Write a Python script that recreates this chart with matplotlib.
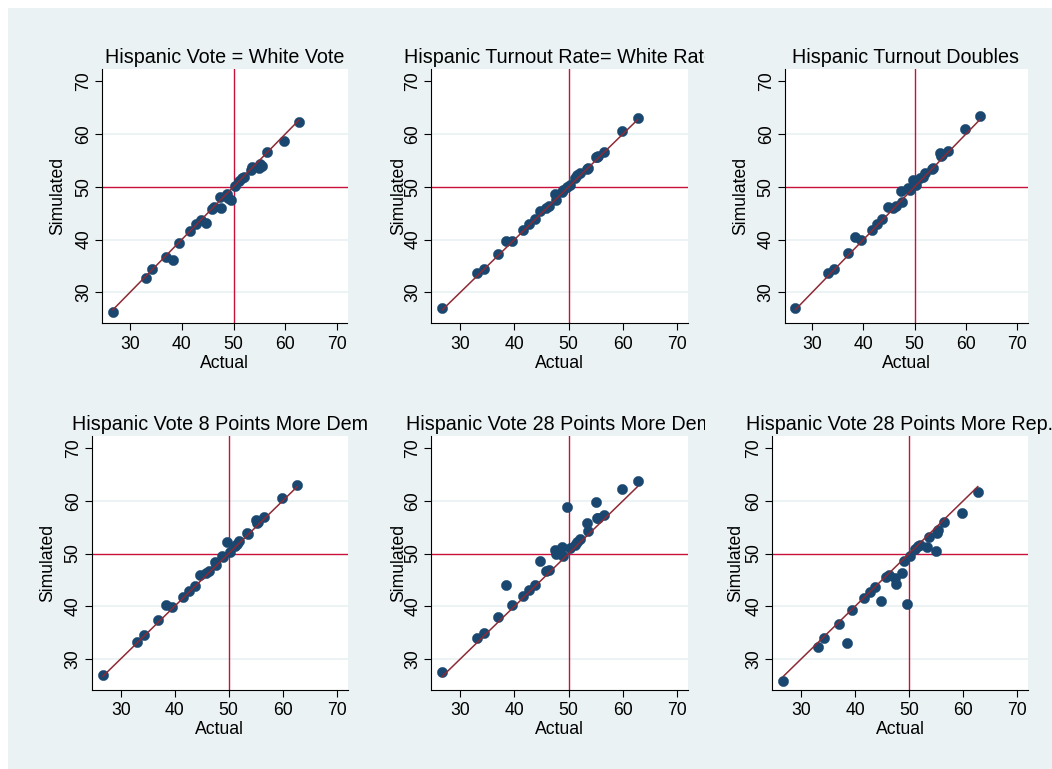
import matplotlib
matplotlib.use('Agg')
import matplotlib.pyplot as plt
from matplotlib.patches import Rectangle
from matplotlib.transforms import Bbox, offset_copy

plt.rcParams['font.family'] = ['Liberation Sans', 'DejaVu Sans']

# actual democratic share by state (x axis, same in every panel)
actual = [26.7, 33.1, 34.3, 37.0, 38.4, 39.5, 41.6, 42.7, 43.7, 44.7, 45.8, 46.3, 47.4, 47.6, 48.7,
          49.0, 49.6, 50.2, 51.1, 51.6, 52.0, 53.3, 53.6, 55.0, 55.2, 55.4, 56.5, 59.8, 62.7]

# simulated share for each scenario
sim_white_vote = [26.3, 32.8, 34.5, 36.7, 36.1, 39.4, 41.6, 42.9, 43.7, 43.2, 45.8, 46.2, 48.0, 46.0, 48.7,
                  47.8, 47.5, 50.2, 51.1, 51.6, 51.8, 53.2, 53.8, 53.5, 54.4, 54.0, 56.5, 58.7, 62.2]
sim_white_rate = [27.0, 33.7, 34.5, 37.2, 39.7, 39.7, 41.8, 43.0, 43.8, 45.5, 46.0, 46.4, 48.6, 47.4, 49.1,
                  49.3, 50.0, 50.3, 51.6, 52.2, 52.6, 53.4, 53.6, 55.7, 55.6, 55.8, 56.6, 60.5, 63.0]
sim_doubles = [27.1, 33.6, 34.4, 37.5, 40.5, 39.9, 41.75, 42.9, 43.8, 46.1, 45.9, 46.4, 49.25, 47.1, 49.7,
               49.4, 51.3, 50.3, 51.6, 51.9, 52.7, 53.3, 53.6, 56.3, 55.8, 56.0, 56.75, 61.0, 63.4]
sim_dem8 = [26.9, 33.3, 34.6, 37.4, 40.2, 39.8, 41.75, 42.9, 43.8, 45.9, 46.3, 46.6, 48.4, 47.9, 49.6,
            49.3, 52.25, 50.3, 51.5, 51.9, 52.3, 53.9, 53.7, 56.4, 55.7, 55.9, 56.9, 60.5, 63.0]
sim_dem28 = [27.6, 33.9, 34.9, 37.9, 44.0, 40.25, 41.9, 43.1, 44.1, 48.6, 46.6, 46.8, 50.7, 49.9, 51.3,
             49.6, 58.9, 51.0, 51.6, 52.1, 52.75, 55.7, 54.3, 59.75, 56.7, 56.8, 57.25, 62.25, 63.8]
sim_rep28 = [25.8, 32.3, 33.9, 36.6, 33.1, 39.2, 41.5, 42.7, 43.6, 40.9, 45.5, 46.0, 45.4, 44.3, 46.4,
             48.5, 40.4, 49.5, 50.9, 51.4, 51.6, 51.2, 53.1, 50.4, 53.9, 54.4, 56.0, 57.6, 61.7]

titles = ['Hispanic Vote = White Vote', 'Hispanic Turnout Rate= White Rate', 'Hispanic Turnout Doubles',
          'Hispanic Vote 8 Points More Dem', 'Hispanic Vote 28 Points More Dem', 'Hispanic Vote 28 Points More Rep.']
series = [sim_white_vote, sim_white_rate, sim_doubles, sim_dem8, sim_dem28, sim_rep28]
ticks = [30, 40, 50, 60, 70]

W, H = 1052, 769
BG = '#EAF2F3'
NAVY = '#1A476F'
RED = '#C8103A'
MAROON = '#8E2A35'

fig = plt.figure(figsize=(W / 100, H / 100), dpi=100)
fig.patch.set_facecolor('white')
fig.patches.append(Rectangle((8 / W, 0), 1, 1 - 8 / H, transform=fig.transFigure,
                             facecolor=BG, edgecolor='none', zorder=-10))

# plot areas in pixels: left, top, right, bottom
boxes = [(102, 69, 347.5, 323), (431, 69, 688, 323), (784.5, 69, 1027.5, 323),
         (91.5, 436, 347.5, 689.5), (431, 436, 688, 689.5), (772, 436, 1028, 689.5)]
clip_right = [380, 705, W, 380, 705, W]
# stata puts the y title a little differently in each panel
ylab_pad = [6.3, -2.3, 6.3, 6.3, -2.3, 0.6]

for i in range(6):
    l, t, r, b = boxes[i]
    ax = fig.add_axes([l / W, 1 - b / H, (r - l) / W, (b - t) / H])
    ax.set_facecolor('white')
    ax.set_xlim(24.6, 72)
    ax.set_ylim(24.2, 72.3)
    ax.set_xticks(ticks)
    ax.set_yticks(ticks)
    ax.tick_params(direction='out', length=5, width=0.8, labelsize=12.7, color='black')
    ax.tick_params(axis='x', pad=4)
    ax.tick_params(axis='y', pad=2, labelrotation=90)
    for lab in ax.get_yticklabels():
        lab.set_va('center')
    for s in ['top', 'right']:
        ax.spines[s].set_visible(False)
    for s in ['left', 'bottom']:
        ax.spines[s].set_linewidth(0.8)

    # grid lines like stata (none at the edges)
    for v in [30, 40, 60]:
        ax.axhline(v, color=BG, lw=1.3, zorder=0.5)
    ax.axhline(50, color=RED, lw=1.0, zorder=1)
    ax.axvline(50, color=RED, lw=1.0, zorder=1)

    ax.scatter(actual, series[i], s=55, color=NAVY, edgecolors=NAVY, linewidths=0.3, zorder=2)
    ax.plot([min(actual), max(actual)], [min(actual), max(actual)], color=MAROON, lw=1.1, zorder=3)

    ax.set_xlabel('Actual', fontsize=12.7, labelpad=1.8)
    ax.set_ylabel('Simulated', fontsize=12.7, labelpad=ylab_pad[i])

    tr = offset_copy(ax.transAxes, fig=fig, x=0, y=6.5, units='dots')
    tt = ax.text(0.5, 1.0, titles[i], transform=tr, ha='center', va='baseline', fontsize=14.2)
    tt.set_clip_box(Bbox.from_extents(0, 0, clip_right[i], H))
    tt.set_clip_on(True)

fig.savefig('out.png', dpi=100)
